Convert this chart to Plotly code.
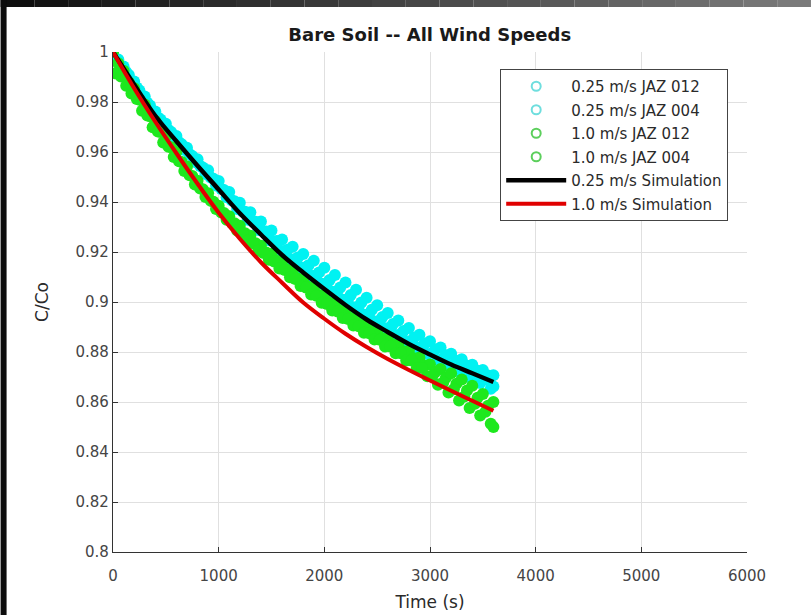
import plotly.graph_objects as go

# ---------------- data ----------------
t_a = list(range(0, 3601, 50))              # JAZ 012 sample times (s)
t_b = list(range(25, 3576, 50)) + [3600]     # JAZ 004 sample times (s)

cyan_012 = [1.0000, 0.9970, 0.9942, 0.9908, 0.9882, 0.9846, 0.9822, 0.9786, 0.9762, 0.9730,
            0.9713, 0.9680, 0.9664, 0.9631, 0.9617, 0.9584, 0.9571, 0.9538, 0.9527, 0.9493,
            0.9484, 0.9448, 0.9440, 0.9403, 0.9397, 0.9361, 0.9359, 0.9321, 0.9322, 0.9282,
            0.9286, 0.9244, 0.9250, 0.9209, 0.9221, 0.9178, 0.9192, 0.9147, 0.9165, 0.9118,
            0.9137, 0.9088, 0.9108, 0.9058, 0.9078, 0.9028, 0.9049, 0.8998, 0.9017, 0.8969,
            0.8987, 0.8940, 0.8956, 0.8912, 0.8926, 0.8884, 0.8896, 0.8858, 0.8869, 0.8834,
            0.8843, 0.8810, 0.8818, 0.8787, 0.8793, 0.8765, 0.8771, 0.8745, 0.8749, 0.8725,
            0.8728, 0.8706, 0.8707]

cyan_004 = [0.9973, 0.9939, 0.9920, 0.9881, 0.9858, 0.9820, 0.9797, 0.9761, 0.9738, 0.9707,
            0.9688, 0.9657, 0.9639, 0.9608, 0.9591, 0.9560, 0.9544, 0.9512, 0.9498, 0.9466,
            0.9452, 0.9419, 0.9406, 0.9372, 0.9362, 0.9329, 0.9321, 0.9288, 0.9281, 0.9247,
            0.9242, 0.9207, 0.9204, 0.9172, 0.9171, 0.9138, 0.9139, 0.9105, 0.9108, 0.9073,
            0.9076, 0.9041, 0.9044, 0.9009, 0.9013, 0.8979, 0.8983, 0.8949, 0.8954, 0.8922,
            0.8927, 0.8895, 0.8899, 0.8868, 0.8872, 0.8841, 0.8845, 0.8817, 0.8821, 0.8792,
            0.8797, 0.8767, 0.8774, 0.8743, 0.8752, 0.8721, 0.8732, 0.8699, 0.8711, 0.8676,
            0.8690, 0.8653, 0.8662]

green_012 = [1.0000, 0.9955, 0.9925, 0.9878, 0.9855, 0.9809, 0.9790, 0.9743, 0.9724, 0.9680,
             0.9662, 0.9619, 0.9600, 0.9560, 0.9542, 0.9504, 0.9485, 0.9451, 0.9435, 0.9401,
             0.9385, 0.9356, 0.9343, 0.9315, 0.9305, 0.9275, 0.9265, 0.9235, 0.9225, 0.9198,
             0.9192, 0.9165, 0.9160, 0.9129, 0.9120, 0.9094, 0.9088, 0.9061, 0.9055, 0.9028,
             0.9025, 0.8997, 0.8993, 0.8966, 0.8962, 0.8936, 0.8933, 0.8908, 0.8905, 0.8881,
             0.8880, 0.8855, 0.8855, 0.8829, 0.8830, 0.8803, 0.8805, 0.8775, 0.8778, 0.8746,
             0.8750, 0.8720, 0.8732, 0.8697, 0.8715, 0.8673, 0.8690, 0.8646, 0.8665, 0.8617,
             0.8632, 0.8585, 0.8600]

green_004 = [0.9915, 0.9902, 0.9865, 0.9834, 0.9812, 0.9765, 0.9746, 0.9699, 0.9682, 0.9638,
             0.9621, 0.9580, 0.9563, 0.9524, 0.9507, 0.9470, 0.9454, 0.9420, 0.9405, 0.9372,
             0.9358, 0.9329, 0.9316, 0.9286, 0.9275, 0.9245, 0.9235, 0.9205, 0.9196, 0.9169,
             0.9162, 0.9134, 0.9128, 0.9099, 0.9092, 0.9064, 0.9058, 0.9030, 0.9025, 0.8997,
             0.8992, 0.8966, 0.8962, 0.8936, 0.8932, 0.8906, 0.8903, 0.8877, 0.8875, 0.8850,
             0.8849, 0.8822, 0.8822, 0.8795, 0.8795, 0.8766, 0.8766, 0.8735, 0.8736, 0.8703,
             0.8706, 0.8669, 0.8678, 0.8638, 0.8651, 0.8606, 0.8622, 0.8576, 0.8593, 0.8546,
             0.8561, 0.8513, 0.8500]

t_sim = [0, 200, 400, 600, 800, 1000, 1200, 1400, 1600, 1800, 2000, 2200, 2400,
         2600, 2800, 3000, 3200, 3400, 3600]
sim_025 = [1.0000, 0.9870, 0.9745, 0.9643, 0.9545, 0.9450, 0.9355, 0.9270, 0.9188, 0.9118,
           0.9052, 0.8988, 0.8930, 0.8880, 0.8832, 0.8790, 0.8750, 0.8715, 0.8680]
sim_10 = [1.0000, 0.9855, 0.9721, 0.9595, 0.9473, 0.9357, 0.9253, 0.9159, 0.9077, 0.8998,
          0.8933, 0.8873, 0.8820, 0.8772, 0.8728, 0.8686, 0.8645, 0.8605, 0.8565]

x_ticks = [0, 1000, 2000, 3000, 4000, 5000, 6000]
y_ticks = [0.8, 0.82, 0.84, 0.86, 0.88, 0.9, 0.92, 0.94, 0.96, 0.98, 1]
y_tick_text = ["0.8", "0.82", "0.84", "0.86", "0.88", "0.9", "0.92", "0.94", "0.96", "0.98", "1"]

names = ["0.25 m/s JAZ 012", "0.25 m/s JAZ 004", "1.0 m/s JAZ 012", "1.0 m/s JAZ 004",
         "0.25 m/s Simulation", "1.0 m/s Simulation"]

# ---------------- figure ----------------
FONT = "DejaVu Sans, Liberation Sans, sans-serif"
CYAN = "#00f2f2"
GREEN = "#1ee81e"
CYAN_LEG = "#6fdede"
GREEN_LEG = "#5ccf5c"

fig = go.Figure()

scatter_sets = [(t_a, cyan_012, CYAN), (t_b, cyan_004, CYAN),
                (t_a, green_012, GREEN), (t_b, green_004, GREEN)]
for tx, vy, col in scatter_sets:
    fig.add_trace(go.Scatter(
        x=tx, y=vy, mode="markers", showlegend=False, hoverinfo="skip",
        marker=dict(symbol="circle", size=12, color=col, line=dict(width=0)),
    ))

# legend entries (open circles as in the original)
leg_cols = [CYAN_LEG, CYAN_LEG, GREEN_LEG, GREEN_LEG]
for i in range(4):
    fig.add_trace(go.Scatter(
        x=[None], y=[None], mode="markers", name=names[i], legendgroup=f"g{i}",
        marker=dict(symbol="circle-open", size=9, color=leg_cols[i], line=dict(width=2, color=leg_cols[i])),
    ))

fig.add_trace(go.Scatter(x=t_sim, y=sim_025, mode="lines", name=names[4], legendgroup="g4",
                         line=dict(color="#000000", width=4.5, shape="spline")))
fig.add_trace(go.Scatter(x=t_sim, y=sim_10, mode="lines", name=names[5], legendgroup="g5",
                         line=dict(color="#e00000", width=4, shape="spline")))

# screenshot frame (decoration)
L, R, T, B = 112.5, 747.0, 52.0, 552.0
def px(xp):
    return (xp - L) / (R - L)
def py(yp):
    return (B - yp) / (B - T)

shapes = []
nseg = 24
for k in range(nseg):
    x0 = 811 * k / nseg
    x1 = 811 * (k + 1) / nseg
    g = int(12 + (125 - 12) * (k + 0.5) / nseg)
    shapes.append(dict(type="rect", xref="paper", yref="paper",
                       x0=px(x0), x1=px(x1), y0=py(7), y1=py(0),
                       fillcolor=f"rgb({g},{g},{g})", line=dict(width=0), layer="above"))
shapes.append(dict(type="rect", xref="paper", yref="paper",
                   x0=px(0), x1=px(6), y0=py(615), y1=py(0),
                   fillcolor="rgb(12,12,12)", line=dict(width=0), layer="above"))

fig.update_layout(
    width=811, height=615,
    margin=dict(l=L, r=811 - R, t=T, b=615 - B),
    paper_bgcolor="white", plot_bgcolor="white",
    font=dict(family=FONT, size=15, color="#404040"),
    title=dict(text="<b>Bare Soil -- All Wind Speeds</b>", x=(L + R) / 2 / 811, xanchor="center",
               y=1 - 35 / 615, yanchor="middle", font=dict(size=18, color="#1a1a1a")),
    showlegend=True,
    legend=dict(x=px(500), y=py(69), xanchor="left", yanchor="top",
                bgcolor="white", bordercolor="#444444", borderwidth=1,
                font=dict(size=15, color="#2a2a2a"), itemwidth=60,
                tracegroupgap=1, traceorder="grouped"),
    shapes=shapes,
)

fig.update_xaxes(range=[0, 6000], tickvals=x_ticks, ticks="inside", ticklen=5, tickcolor="#333333",
                 showline=True, linecolor="#333333", linewidth=1.2, mirror=False, automargin=False,
                 showgrid=True, gridcolor="#e0e0e0", gridwidth=1, zeroline=False,
                 tickfont=dict(size=15, color="#454545"), ticklabelstandoff=10,
                 title=dict(text="Time (s)", font=dict(size=17, color="#2a2a2a"), standoff=12))
fig.update_yaxes(range=[0.8, 1.0], tickvals=y_ticks, ticktext=y_tick_text, ticks="inside", ticklen=5,
                 tickcolor="#333333", showline=True, linecolor="#333333", linewidth=1.2, mirror=False,
                 automargin=False,
                 showgrid=True, gridcolor="#e0e0e0", gridwidth=1, zeroline=False,
                 tickfont=dict(size=15, color="#454545"),
                 title=dict(text="C/Co", font=dict(size=17, color="#2a2a2a"), standoff=22))

fig.write_html("out.html")
